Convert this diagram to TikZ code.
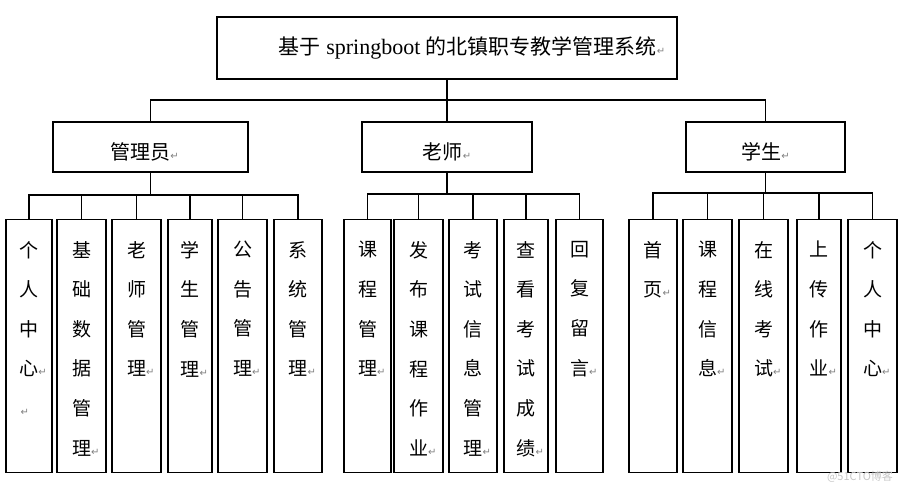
\documentclass[tikz,border=0pt]{standalone}
\usepackage{fontspec}
\setmainfont{Liberation Serif}
\newfontfamily\cjk{Noto Sans CJK SC}
\newfontfamily\symfont{DejaVu Sans}
\newcommand{\pglyph}{{\symfont\fontsize{10}{10}\selectfont\color{gray}↵}}
\newcommand{\pmark}{\rlap{\pglyph}}

\tikzset{
	box/.style={draw, line width=1.2pt, inner sep=0pt, minimum height=50pt},
	leaf/.style={draw, line width=1.2pt, inner sep=0pt, minimum height=253pt, anchor=north},
	toptext/.style={anchor=center, inner sep=0pt, font=\fontsize{22}{24}\selectfont},
	midtext/.style={anchor=center, inner sep=0pt, yshift=-5pt, font=\cjk\fontsize{20}{24}\selectfont},
	leaftext/.style={anchor=north, align=center, inner sep=0pt, yshift=-22pt, font=\cjk\fontsize{19}{39.6}\selectfont},
	link/.style={line width=1.2pt},
}

\begin{document}
\begin{tikzpicture}[x=1pt, y=-1pt]
	\useasboundingbox (0,0) rectangle (913,493);

	% root and the three roles
	\node[box, minimum width=460pt, minimum height=62pt,
		label={[toptext, xshift=25pt]center:{{\cjk\fontsize{21}{24}\selectfont 基于} springboot {\cjk\fontsize{21}{24}\selectfont 的北镇职专教学管理系统}\pglyph}}] (root) at (447,48) {};
	\node[box, minimum width=195pt, label={[midtext, xshift=-6pt]center:管理员\pglyph}] (adm) at (150.5,147) {};
	\node[box, minimum width=170pt, label={[midtext]center:老师\pglyph}] (tea) at (447,147) {};
	\node[box, minimum width=159pt, label={[midtext]center:学生\pglyph}] (stu) at (765.5,147) {};

	\coordinate (busR) at (447,100);
	\draw[link] (root.south) -- (busR);
	\draw[link] (adm.north) |- (busR) -| (stu.north);
	\draw[link] (busR) -- (tea.north);

	% admin
	\node[leaf, minimum width=46pt, label={[leaftext]north:个\\人\\中\\心\pmark\\\llap{\pglyph}}] (a1) at (29,219) {};
	\node[leaf, minimum width=49pt, label={[leaftext]north:基\\础\\数\\据\\管\\理\pmark}] (a2) at (81.5,219) {};
	\node[leaf, minimum width=49pt, label={[leaftext]north:老\\师\\管\\理\pmark}] (a3) at (136.5,219) {};
	\node[leaf, minimum width=44pt, label={[leaftext]north:学\\生\\管\\理\pmark}] (a4) at (190,219) {};
	\node[leaf, minimum width=49pt, label={[leaftext]north:公\\告\\管\\理\pmark}] (a5) at (242.5,219) {};
	\node[leaf, minimum width=48pt, label={[leaftext]north:系\\统\\管\\理\pmark}] (a6) at (298,219) {};

	\coordinate (busA) at (150.5,195);
	\draw[link] (adm.south) -- (busA);
	\draw[link] (a1.north) |- (busA) -| (a6.north);
	\foreach \n in {a2,a3,a4,a5}
		\draw[link] (\n.north) -- (\n.north |- busA);

	% teacher
	\node[leaf, minimum width=47pt, label={[leaftext]north:课\\程\\管\\理\pmark}] (t1) at (367.5,219) {};
	\node[leaf, minimum width=49pt, label={[leaftext]north:发\\布\\课\\程\\作\\业\pmark}] (t2) at (418.5,219) {};
	\node[leaf, minimum width=48pt, label={[leaftext]north:考\\试\\信\\息\\管\\理\pmark}] (t3) at (473,219) {};
	\node[leaf, minimum width=44pt, label={[leaftext]north:查\\看\\考\\试\\成\\绩\pmark}] (t4) at (526,219) {};
	\node[leaf, minimum width=47pt, label={[leaftext]north:回\\复\\留\\言\pmark}] (t5) at (579.5,219) {};

	\coordinate (busT) at (447,194);
	\draw[link] (tea.south) -- (busT);
	\draw[link] (t1.north) |- (busT) -| (t5.north);
	\foreach \n in {t2,t3,t4}
		\draw[link] (\n.north) -- (\n.north |- busT);

	% student
	\node[leaf, minimum width=48pt, label={[leaftext]north:首\\页\pmark}] (s1) at (653,219) {};
	\node[leaf, minimum width=49pt, label={[leaftext]north:课\\程\\信\\息\pmark}] (s2) at (707.5,219) {};
	\node[leaf, minimum width=49pt, label={[leaftext]north:在\\线\\考\\试\pmark}] (s3) at (763.5,219) {};
	\node[leaf, minimum width=44pt, label={[leaftext]north:上\\传\\作\\业\pmark}] (s4) at (819,219) {};
	\node[leaf, minimum width=49pt, label={[leaftext]north:个\\人\\中\\心\pmark}] (s5) at (872.5,219) {};

	\coordinate (busS) at (765.5,193);
	\draw[link] (stu.south) -- (busS);
	\draw[link] (s1.north) |- (busS) -| (s5.north);
	\foreach \n in {s2,s3,s4}
		\draw[link] (\n.north) -- (\n.north |- busS);

	\node[font=\cjk\fontsize{11}{13}\selectfont, text=gray!45, inner sep=0pt] (wmark) at (860,477) {@51CTO博客};
\end{tikzpicture}
\end{document}
